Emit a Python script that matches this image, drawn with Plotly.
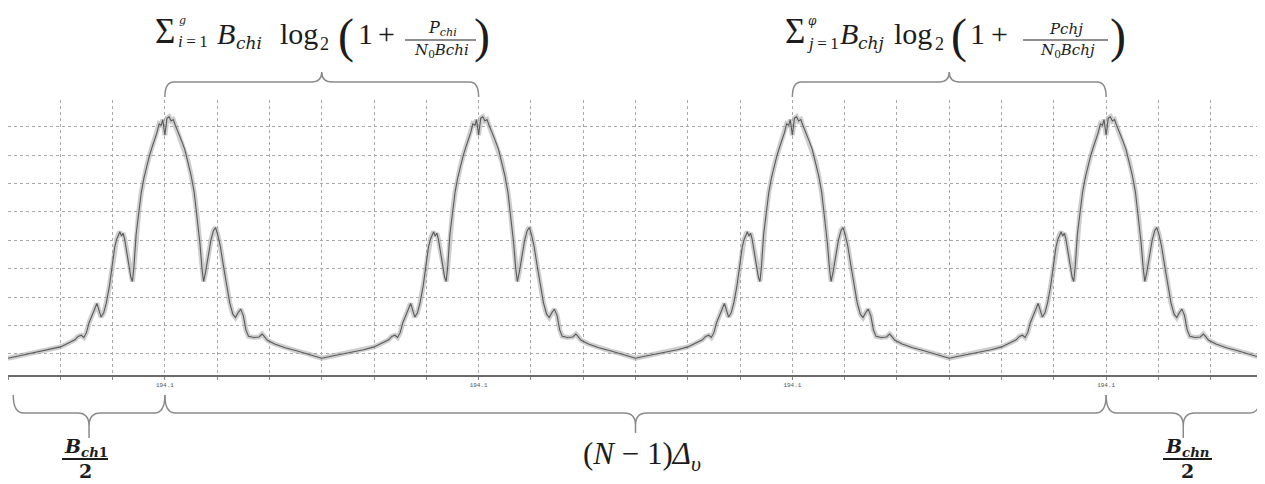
import plotly.graph_objects as go

# ---------------- data ----------------
# frequency axis in grid divisions (24 divisions), channel centres
channel_centers = [3, 9, 15, 21]
tick_label = "194.1"

# one channel spectrum profile (offset from channel centre, level) in grid units
profile_offsets = [-3.00, -2.80, -2.60, -2.40, -2.20, -2.00, -1.90, -1.80, -1.72, -1.66,
                   -1.60, -1.55, -1.50, -1.45, -1.40, -1.35, -1.30, -1.26, -1.22, -1.17,
                   -1.12, -1.06, -1.00, -0.96, -0.92, -0.89, -0.86, -0.83, -0.80, -0.77,
                   -0.73, -0.69, -0.65, -0.62, -0.59, -0.55, -0.50, -0.45, -0.40, -0.35,
                   -0.30, -0.25, -0.20, -0.15, -0.11, -0.07, -0.04, 0.00, 0.04, 0.08,
                   0.12, 0.16, 0.20, 0.26, 0.32, 0.38, 0.44, 0.50, 0.56, 0.62,
                   0.67, 0.71, 0.74, 0.78, 0.83, 0.88, 0.93, 0.97, 1.01, 1.06,
                   1.12, 1.18, 1.24, 1.30, 1.35, 1.40, 1.45, 1.50, 1.55, 1.60,
                   1.70, 1.80, 1.86, 1.90, 1.96, 2.10, 2.30, 2.50, 2.70, 2.85, 3.00]
profile_values = [0.85, 0.93, 1.00, 1.07, 1.15, 1.25, 1.33, 1.42, 1.50, 1.62,
                  1.66, 1.58, 1.75, 2.10, 2.30, 2.55, 2.78, 2.50, 2.30, 2.45,
                  2.80, 3.40, 4.20, 4.75, 5.05, 5.20, 5.30, 5.15, 5.25, 5.05,
                  4.60, 4.10, 3.70, 3.55, 4.10, 5.20, 6.00, 6.70, 7.20, 7.60,
                  7.95, 8.25, 8.50, 8.80, 9.10, 9.05, 9.25, 8.70, 9.30, 9.35,
                  9.20, 9.25, 9.05, 8.80, 8.50, 8.20, 7.80, 7.30, 6.70, 5.80,
                  4.90, 4.00, 3.55, 3.90, 4.50, 5.00, 5.35, 5.45, 5.20, 4.80,
                  4.10, 3.40, 2.80, 2.40, 2.28, 2.45, 2.58, 2.35, 1.85, 1.62,
                  1.58, 1.60, 1.70, 1.62, 1.48, 1.35, 1.22, 1.12, 1.02, 0.92, 0.85]

# ---------------- geometry ----------------
PAGE_OFF = 8                      # default body margin of the html page
W, H = 1265 - PAGE_OFF, 484 - PAGE_OFF
L, R, T, B = 0, 2, 92, 109
PW, PH = W - L - R, H - T - B
NX = 24
REF_LEFT = PAGE_OFF + L           # plot left edge in window pixels
REF_BOTTOM = PAGE_OFF + H - B     # plot bottom edge in window pixels


def X(px):  # window pixel -> paper x
    return (px - REF_LEFT) / PW


def Y(py):  # window pixel -> paper y
    return (REF_BOTTOM - py) / PH


def DX(d):  # data x -> paper x
    return d / NX


xs, ys = [], []
for c in channel_centers:
    for o, v in zip(profile_offsets, profile_values):
        xs.append(c + o)
        ys.append(v)

fig = go.Figure()
fig.add_trace(go.Scatter(x=xs, y=ys, mode="lines",
                         line=dict(color="rgba(165,165,165,0.55)", width=5),
                         hoverinfo="skip"))
fig.add_trace(go.Scatter(x=xs, y=ys, mode="lines",
                         line=dict(color="#5a5a5a", width=1.1),
                         hoverinfo="skip"))

ticktext = [tick_label if i in channel_centers else "" for i in range(NX + 1)]

fig.update_layout(
    width=W, height=H,
    margin=dict(l=L, r=R, t=T, b=B),
    paper_bgcolor="white", plot_bgcolor="white",
    showlegend=False,
    xaxis=dict(range=[0, NX], tickvals=list(range(NX + 1)), ticktext=ticktext,
               showgrid=True, gridcolor="#a8a8a8", griddash="dot", gridwidth=1,
               zeroline=False, showline=True, linecolor="#6a6a6a", linewidth=2,
               ticks="outside", ticklen=3, tickcolor="#888888",
               tickfont=dict(family="Liberation Mono", size=6, color="#555555")),
    yaxis=dict(range=[0.26, 9.94], tick0=0, dtick=1, showticklabels=False,
               showgrid=True, gridcolor="#a8a8a8", griddash="dot", gridwidth=1,
               zeroline=False, showline=False, ticks=""),
)

BR_COLOR = "#8a8a8a"


def brace(x1, x2, y_end, y_line, y_tip, r, rc, stem=None):
    """x in data units, y in window pixels; tip in the middle."""
    xm = (x1 + x2) / 2
    p = lambda x, y: f"{DX(x):.5f},{Y(y):.5f}"
    tip_y = y_tip if stem is None else stem
    path = (f"M {p(x1, y_end)} Q {p(x1, y_line)} {p(x1 + r, y_line)} "
            f"L {p(xm - rc, y_line)} Q {p(xm, y_line)} {p(xm, tip_y)} ")
    if stem is not None:
        path += f"L {p(xm, y_tip)} M {p(xm, tip_y)} "
    path += (f"Q {p(xm, y_line)} {p(xm + rc, y_line)} "
             f"L {p(x2 - r, y_line)} Q {p(x2, y_line)} {p(x2, y_end)}")
    fig.add_shape(type="path", path=path, xref="paper", yref="paper",
                  line=dict(color=BR_COLOR, width=1.5))


# top braces
brace(3, 9, 97, 82, 72, 0.17, 0.2)
brace(15, 21, 97, 82, 72, 0.17, 0.2)
# bottom braces
brace(0.1, 3, 395, 413, 438, 0.2, 0.22, stem=426)
brace(3, 21, 395, 413, 433, 0.2, 0.22, stem=425)
brace(21, 23.95, 395, 413, 438, 0.2, 0.22, stem=426)

TXT = "#1c1c1c"
SERIF = "Liberation Serif"
MATH = "DejaVu Serif"
TS = "\u2009"  # thin space


def txt(text, px, py, size, anchor="left", family=SERIF):
    fig.add_annotation(text=text, x=X(px), y=Y(py), xref="paper", yref="paper",
                       xanchor=anchor, yanchor="middle", showarrow=False,
                       font=dict(family=family, size=size, color=TXT), borderpad=0)


def hline(x1, x2, py, w=1.2):
    fig.add_shape(type="line", x0=X(x1), x1=X(x2), y0=Y(py), y1=Y(py),
                  xref="paper", yref="paper", line=dict(color=TXT, width=w))


# ---- formula 1 ----
txt("Σ", 154, 32, 35)
txt("<i>g</i>", 178, 21, 11, family=MATH)
txt(f"<i>i</i>{TS}={TS}1", 177, 42, 17)
txt("<i>B</i>", 216, 33, 30)
txt("<i>chi</i>", 235, 43, 17, family=MATH)
txt("log", 279, 33, 30)
txt("2", 319, 44, 18)
txt("(", 337, 36, 48)
txt("1", 357, 33, 30)
txt("+", 377, 33, 30)
txt("<i>P</i><sub><i>chi</i></sub>", 442, 29, 16, "center", family=MATH)
hline(405, 476, 40)
txt("<i>N</i><sub>0</sub><i>Bchi</i>", 441, 51, 15, "center", family=MATH)
txt(")", 473, 36, 48)

# ---- formula 2 ----
txt("Σ", 784, 32, 35)
txt("<i>φ</i>", 807, 21, 12, family=MATH)
txt(f"<i>j</i>{TS}={TS}1", 806, 43, 17)
txt("<i>B</i>", 839, 33, 30)
txt("<i>chj</i>", 857, 43, 17, family=MATH)
txt("log", 893, 33, 30)
txt("2", 934, 44, 18)
txt("(", 950, 36, 48)
txt("1", 969, 33, 30)
txt("+", 990, 33, 30)
txt("<i>Pchj</i>", 1066, 29, 15, "center", family=MATH)
hline(1023, 1108, 40)
txt("<i>N</i><sub>0</sub><i>Bchj</i>", 1067, 51, 15, "center", family=MATH)
txt(")", 1109, 36, 48)

# ---- bottom labels ----
txt("<b><i>B</i><sub><i>ch</i>1</sub></b>", 86, 447, 19, "center", family=MATH)
hline(62, 108, 459, 2)
txt("<b>2</b>", 85, 471, 19, "center", family=MATH)

txt("<b><i>B</i><sub><i>chn</i></sub></b>", 1187, 447, 19, "center", family=MATH)
hline(1163, 1212, 459, 2)
txt("<b>2</b>", 1187, 471, 19, "center", family=MATH)

txt("(<i>N</i> − 1)<i>Δ</i><sub><i>υ</i></sub>", 642, 456, 31, "center")

fig.write_html("out.html")
